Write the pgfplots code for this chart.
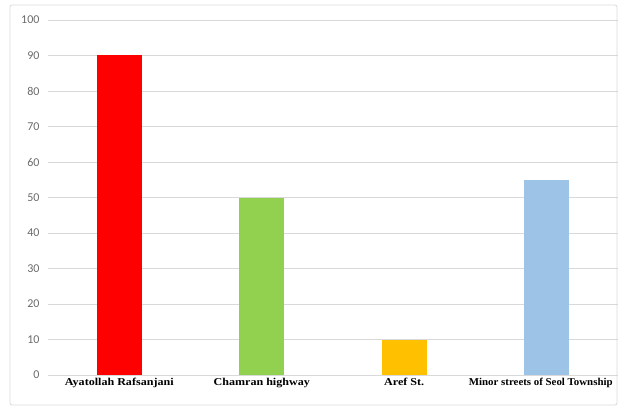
\documentclass[border=0pt]{standalone}
\usepackage{graphicx}
\usepackage{pgfplots}
\pgfplotsset{compat=1.18}
\usepackage{fontspec}
\setmainfont{Liberation Serif}
\newfontfamily\calib{Carlito}
\newfontfamily\lab[FakeStretch=1.15]{Liberation Serif}
\definecolor{gridc}{HTML}{D9D9D9}
\definecolor{tickc}{HTML}{6A6A6A}
\definecolor{cred}{HTML}{FF0000}
\definecolor{cgreen}{HTML}{92D050}
\definecolor{cyellow}{HTML}{FFC000}
\definecolor{cblue}{HTML}{9DC3E6}
\begin{document}
\begin{tikzpicture}
\useasboundingbox (0pt,0pt) rectangle (620pt,407pt);
\draw[gridc, line width=0.8pt, rounded corners=2pt] (10pt,2pt) rectangle (617pt,402pt);
\begin{axis}[
  at={(48pt,32pt)}, anchor=south west,
  scale only axis, width=570pt, height=355pt,
  xmin=-0.5, xmax=3.5, ymin=0, ymax=100,
  ytick={0,10,...,100},
  xtick={0,1,2,3},
  xticklabels={Ayatollah Rafsanjani, Chamran highway, Aref St., {\scalebox{0.9}[1]{Minor streets of Seol Township}\hspace*{12pt}}},
  axis line style={draw=none},
  ymajorgrids, grid style={gridc, line width=0.8pt},
  major tick length=0pt,
  yticklabel style={font=\calib\fontsize{12}{13}\selectfont, text=tickc, xshift=-5pt},
  xticklabel style={font=\lab\bfseries\fontsize{10.5}{12}\selectfont, text=black, yshift=0pt},
  /pgf/number format/assume math mode=true,
  clip=false,
]
\addplot[ybar, bar width=0.315, bar shift=0, fill=cred, draw=none] coordinates {(0,90)};
\addplot[ybar, bar width=0.315, bar shift=0, fill=cgreen, draw=none] coordinates {(1,50)};
\addplot[ybar, bar width=0.315, bar shift=0, fill=cyellow, draw=none] coordinates {(2,10)};
\addplot[ybar, bar width=0.315, bar shift=0, fill=cblue, draw=none] coordinates {(3,55)};
\end{axis}
\end{tikzpicture}
\end{document}
